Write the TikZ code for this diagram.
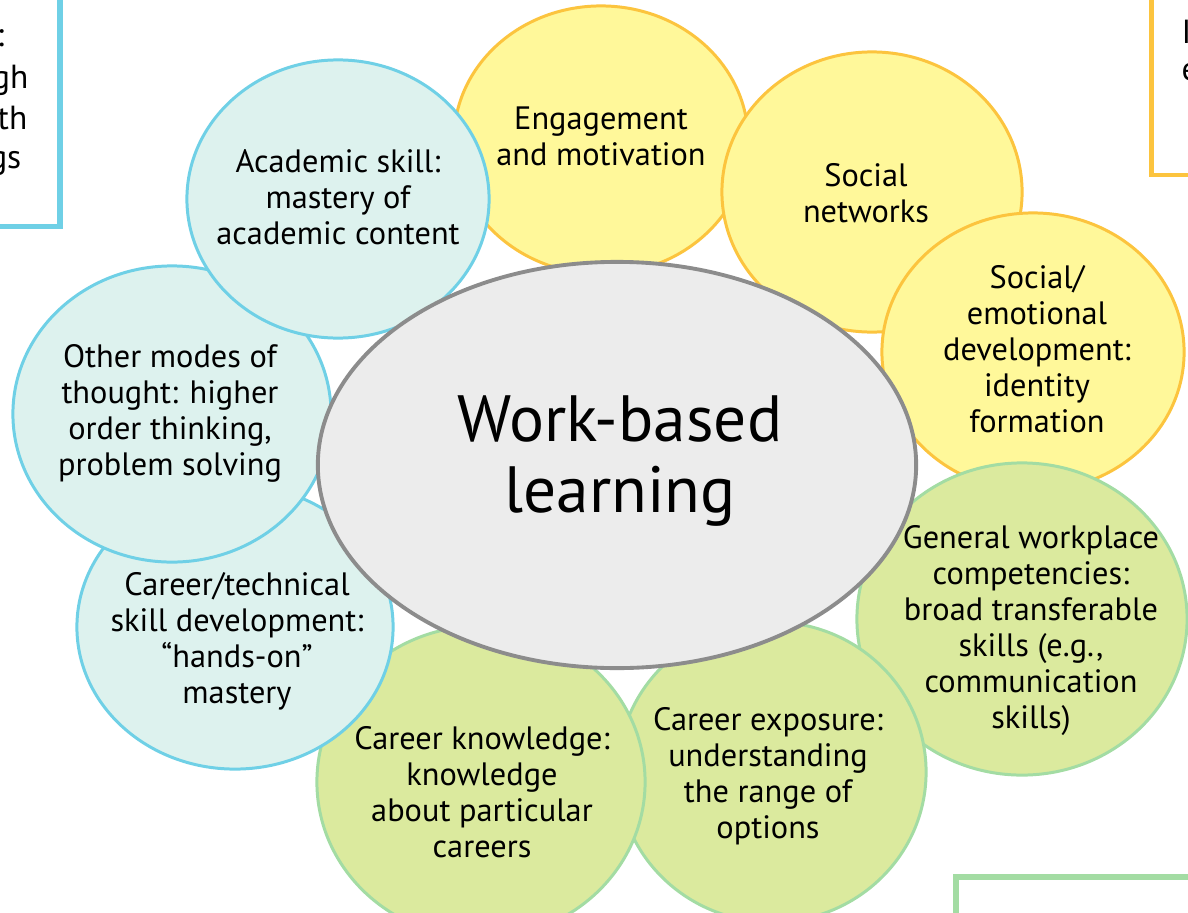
\documentclass[tikz,border=0pt]{standalone}
\usepackage{fontspec}
\setmainfont{PT Sans}
\usetikzlibrary{shapes.geometric}
\definecolor{tealfill}{HTML}{DDF2EE}
\definecolor{bluebord}{HTML}{6FD0E6}
\definecolor{yelfill}{HTML}{FFF89A}
\definecolor{yelbord}{HTML}{FCC43E}
\definecolor{grnfill}{HTML}{DBEA9E}
\definecolor{grnbord}{HTML}{A3DCA3}
\definecolor{gryfill}{HTML}{ECECEC}
\definecolor{grybord}{HTML}{8C8C8C}
\begin{document}
\begin{tikzpicture}[x=0.01cm,y=-0.01cm,
  bub/.style={ellipse, line width=0.85pt, inner sep=0pt, outer sep=0pt},
  tealbub/.style={bub, fill=tealfill, draw=bluebord},
  yelbub/.style={bub, fill=yelfill, draw=yelbord},
  grnbub/.style={bub, fill=grnfill, draw=grnbord},
  lbl/.style={align=center, inner sep=0pt, font=\fontsize{9.2}{10.24}\selectfont},
  biglbl/.style={align=center, inner sep=0pt, font=\fontsize{18.6}{20.2}\selectfont},
  frag/.style={inner sep=0pt, font=\fontsize{9.5}{11.4}\selectfont},
]
\useasboundingbox (0,0) rectangle (1188,912);
\clip (0,0) rectangle (1188,912);
\fill[white] (0,0) rectangle (1188,912);

% partial boxes at the corners
\draw[draw=bluebord, line width=1.7pt] (-60,-60) rectangle (60,226.5);
\node[frag, anchor=base east] (f1) at (5,47) {:};
\node[frag, anchor=base east] (f2) at (29,88) {gh};
\node[frag, anchor=base east] (f3) at (28,129) {th};
\node[frag, anchor=base east] (f4) at (22,168) {gs};

\draw[draw=yelbord, line width=1.15pt] (1151.5,-60) rectangle (1260,175);
\node[frag, anchor=base west] (f5) at (1181,44) {I};
\node[frag, anchor=base west] (f6) at (1181,80) {e};

\draw[draw=grnbord, line width=1.9pt] (956,877) rectangle (1260,1000);

% bubbles (drawn back to front)
\node[yelbub, minimum width=2.94cm, minimum height=2.68cm] (engC) at (601,140) {};
\node[lbl] (engT) at (601,136) {Engagement\\and motivation};

\node[yelbub, minimum width=3.00cm, minimum height=2.80cm] (socC) at (872,192) {};
\node[lbl] (socT) at (866,193) {Social\\networks};

\node[yelbub, minimum width=3.02cm, minimum height=2.78cm] (emoC) at (1033,352) {};
\node[lbl] (emoT) at (1037,349) {Social/\\emotional\\development:\\identity\\formation};

\node[grnbub, minimum width=3.30cm, minimum height=3.12cm] (genC) at (1022,619) {};
\node[lbl] (genT) at (1031,631) {General workplace\\competencies:\\broad transferable\\skills (e.g.,\\communication\\skills)};

\node[grnbub, minimum width=3.08cm, minimum height=3.00cm] (expC) at (772,772) {};
\node[lbl] (expT) at (768,776) {Career exposure:\\understanding\\the range of\\options};

\node[grnbub, minimum width=3.28cm, minimum height=3.12cm] (knoC) at (481,782) {};
\node[lbl] (knoT) at (482,792) {Career knowledge:\\knowledge\\about particular\\careers};

\node[tealbub, minimum width=3.16cm, minimum height=2.84cm] (tecC) at (235,627) {};
\node[lbl] (tecT) at (237,641) {Career/technical\\skill development:\\“hands-on”\\mastery};

\node[tealbub, minimum width=3.18cm, minimum height=2.96cm] (othC) at (172,414) {};
\node[lbl] (othT) at (170,413) {Other modes of\\thought: higher\\order thinking,\\problem solving};

\node[tealbub, minimum width=3.02cm, minimum height=2.78cm] (acaC) at (338,199) {};
\node[lbl] (acaT) at (338,197) {Academic skill:\\mastery of\\academic content};

% central ellipse
\node[bub, fill=gryfill, draw=grybord, line width=1.1pt, minimum width=5.98cm, minimum height=4.06cm] (wblC) at (617,465) {};
\node[biglbl] (wblT) at (620,461) {Work-based\\learning};
\end{tikzpicture}
\end{document}
